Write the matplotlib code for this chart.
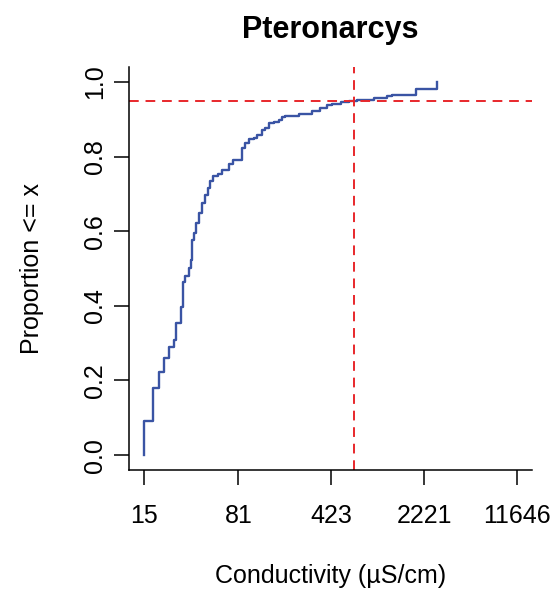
import matplotlib
matplotlib.use('Agg')
import matplotlib.pyplot as plt
import numpy as np

plt.rcParams['font.family'] = ['Liberation Sans', 'DejaVu Sans']

# ECDF of conductivity at sites where the taxon was found (step corners)
conductivity = [15, 15, 17.5, 19.5, 21.6, 23.5, 25.7, 26.6, 28.9, 30.0, 30.3,
                31.4, 33.7, 34.6, 35.4, 36.7, 38.0, 39.9, 42.3, 44.7, 47.4,
                48.9, 51.8, 56.7, 60.2, 67.8, 74.1, 86.1, 91.4, 96.9, 106,
                113, 123, 131, 139, 152, 166, 176, 187, 237, 301, 349, 394,
                431, 500, 580, 674, 907, 1138, 1260, 1929, 2809]
proportion = [0.0, 0.091, 0.179, 0.224, 0.260, 0.291, 0.309, 0.354, 0.398,
              0.410, 0.465, 0.479, 0.501, 0.523, 0.577, 0.595, 0.622, 0.649,
              0.676, 0.698, 0.716, 0.734, 0.747, 0.752, 0.765, 0.779, 0.790,
              0.823, 0.837, 0.846, 0.850, 0.859, 0.872, 0.877, 0.889, 0.892,
              0.899, 0.907, 0.910, 0.915, 0.923, 0.931, 0.937, 0.942, 0.946,
              0.950, 0.951, 0.958, 0.962, 0.966, 0.980, 1.0]

x_ticks = [15, 81, 423, 2221, 11646]
y_ticks = [0.0, 0.2, 0.4, 0.6, 0.8, 1.0]
level_95 = 0.95
xc95 = 630

fig = plt.figure(figsize=(5.57, 5.91), dpi=100)
ax = fig.add_axes([0.2316, 0.2047, 0.7235, 0.6819])

ax.step(conductivity, proportion, where='post', color='#3a54a4', lw=1.7)
ax.axhline(level_95, color='#e8272b', lw=1.4, ls=(0, (5, 3.5)))
ax.axvline(xc95, color='#e8272b', lw=1.4, ls=(0, (5, 3.5)))

ax.set_xscale('log')
lo, hi = np.log10(x_ticks[0]), np.log10(x_ticks[-1])
pad = 0.04 * (hi - lo)
ax.set_xlim(10 ** (lo - pad), 10 ** (hi + pad))
ax.set_ylim(-0.04, 1.04)

ax.set_xticks(x_ticks)
ax.set_xticklabels([str(t) for t in x_ticks])
ax.minorticks_off()
ax.set_yticks(y_ticks)
ax.set_yticklabels([f'{t:.1f}' for t in y_ticks], rotation=90, va='center')

for side in ['top', 'right']:
    ax.spines[side].set_visible(False)
for side in ['left', 'bottom']:
    ax.spines[side].set_linewidth(1.1)
ax.tick_params(direction='out', length=10.8, width=1.1, labelsize=18)
ax.tick_params(axis='x', pad=13.5)
ax.tick_params(axis='y', pad=5)

ax.set_title('Pteronarcys', fontsize=22, fontweight='bold', pad=21)
ax.set_xlabel('Conductivity (µS/cm)', fontsize=18, labelpad=26)
ax.set_ylabel('Proportion <= x', fontsize=18, labelpad=28)

plt.savefig('out.png', dpi=100)
plt.close()
